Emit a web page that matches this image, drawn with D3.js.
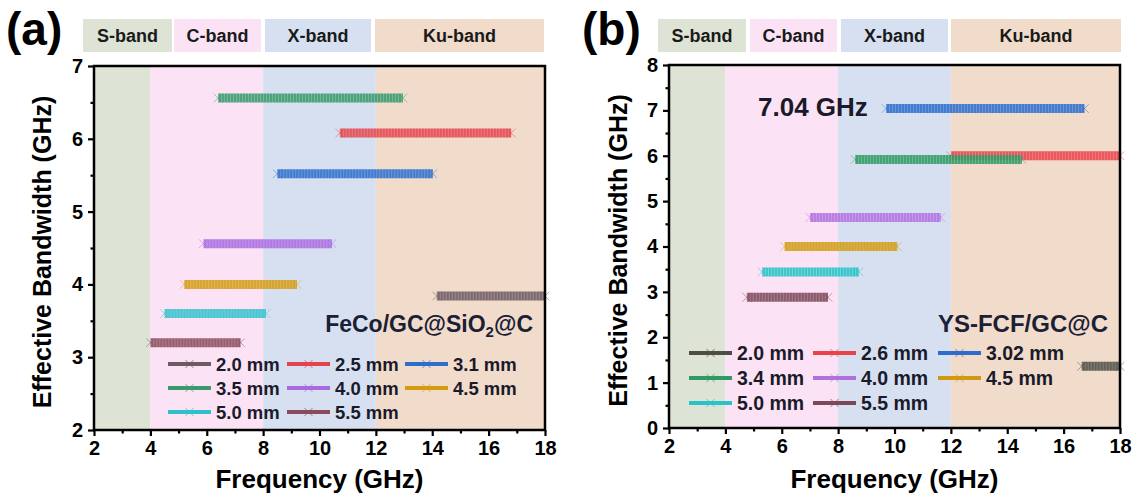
<!DOCTYPE html>
<html>
<head>
<meta charset="utf-8">
<script src="https://cdn.jsdelivr.net/npm/d3@7/dist/d3.min.js"></script>
<style>
  body { margin: 0; background: #fff; }
  svg { display: block; font-family: "Liberation Sans", Arial, sans-serif; font-weight: bold; }
</style>
</head>
<body>
<svg id="chart" width="1138" height="499"></svg>
<script>
// frequency bands (shared by both panels)
const bandNames = ['S-band', 'C-band', 'X-band', 'Ku-band']
const bandEdges = [2, 4, 8, 12, 18]
const bandColors = ['#dde3d5', '#fbe2f4', '#d7e0f1', '#f1dbca']

const xTicks = [2, 4, 6, 8, 10, 12, 14, 16, 18]
const xMinorTicks = [3, 5, 7, 9, 11, 13, 15, 17]

// panel (a) FeCo/GC@SiO2@C
const thicknessA = ['2.0 mm', '2.5 mm', '3.1 mm', '3.5 mm', '4.0 mm', '4.5 mm', '5.0 mm', '5.5 mm']
const startA = [14.16, 10.72, 8.50, 6.40, 5.88, 5.20, 4.50, 4.00]
const endA = [18.00, 16.80, 14.02, 12.96, 10.44, 9.20, 8.10, 7.20]
const ebA = [3.84, 6.08, 5.52, 6.56, 4.56, 4.00, 3.60, 3.20]
const colorsA = ['#6e5a62', '#e2444d', '#2d6dcc', '#3a9a6c', '#a86ae0', '#d49a12', '#30c0cc', '#8a4a5c']
const yTicksA = [2, 3, 4, 5, 6, 7]
const yMinorA = [2.5, 3.5, 4.5, 5.5, 6.5]

// panel (b) YS-FCF/GC@C
const thicknessB = ['2.0 mm', '2.6 mm', '3.02 mm', '3.4 mm', '4.0 mm', '4.5 mm', '5.0 mm', '5.5 mm']
const startB = [16.64, 12.00, 9.70, 8.60, 7.00, 6.10, 5.30, 4.76]
const endB = [18.00, 18.00, 16.74, 14.52, 11.64, 10.10, 8.74, 7.64]
const ebB = [1.36, 6.00, 7.04, 5.92, 4.64, 4.00, 3.44, 2.88]
const colorsB = ['#4d4d45', '#e8434a', '#2c6ccc', '#2f9a62', '#b070e0', '#d09a10', '#28c2c8', '#7c4858']
const yTicksB = [0, 1, 2, 3, 4, 5, 6, 7, 8]
const yMinorB = [0.5, 1.5, 2.5, 3.5, 4.5, 5.5, 6.5, 7.5]

const svg = d3.select('#chart')

function drawPanel(cfg) {
  const g = svg.append('g')
  const x = d3.scaleLinear().domain([2, 18]).range([cfg.left, cfg.right])
  const y = d3.scaleLinear().domain(cfg.yDomain).range([cfg.bottom, cfg.top])

  // panel letter
  g.append('text')
    .attr('x', cfg.letterX).attr('y', 45)
    .attr('font-size', 46)
    .text(cfg.letter)

  // header band boxes
  cfg.header.forEach((h, i) => {
    g.append('rect')
      .attr('x', h[0]).attr('y', 19)
      .attr('width', h[1] - h[0]).attr('height', 33)
      .attr('fill', bandColors[i])
    g.append('text')
      .attr('x', (h[0] + h[1]) / 2).attr('y', 42)
      .attr('text-anchor', 'middle')
      .attr('font-size', 18)
      .attr('fill', '#1a1a1a')
      .text(bandNames[i])
  })

  // background bands in plot
  bandNames.forEach((b, i) => {
    g.append('rect')
      .attr('x', x(bandEdges[i])).attr('y', cfg.top)
      .attr('width', x(bandEdges[i + 1]) - x(bandEdges[i]))
      .attr('height', cfg.bottom - cfg.top)
      .attr('fill', bandColors[i])
  })

  // bandwidth lines
  const line = d3.line().x(d => x(d[0])).y(d => y(d[1]))
  const cross = d3.symbol().type(d3.symbolX).size(50)
  cfg.start.forEach((s, i) => {
    const pts = [[s, cfg.eb[i]], [cfg.end[i], cfg.eb[i]]]
    const lg = g.append('g')
    lg.append('path')
      .attr('d', line(pts))
      .attr('stroke', cfg.colors[i])
      .attr('stroke-width', 9)
      .attr('opacity', 0.88)
      .attr('fill', 'none')
    // marker texture
    lg.append('path')
      .attr('d', line(pts))
      .attr('stroke', '#ffffff')
      .attr('stroke-width', 9)
      .attr('stroke-dasharray', '1,2')
      .attr('opacity', 0.22)
      .attr('fill', 'none')
    pts.forEach(p => {
      lg.append('path')
        .attr('d', cross)
        .attr('transform', `translate(${x(p[0])},${y(p[1])})`)
        .attr('fill', cfg.colors[i])
        .attr('stroke', cfg.colors[i])
        .attr('stroke-width', 0.6)
        .attr('opacity', 0.8)
    })
  })

  // frame
  g.append('rect')
    .attr('x', cfg.left).attr('y', cfg.top)
    .attr('width', cfg.right - cfg.left).attr('height', cfg.bottom - cfg.top)
    .attr('fill', 'none').attr('stroke', '#000').attr('stroke-width', 2.5)

  // axes
  g.append('g')
    .attr('transform', `translate(0,${cfg.bottom})`)
    .call(d3.axisBottom(x).tickValues(xTicks).tickSize(6).tickPadding(5))
  g.append('g')
    .attr('transform', `translate(0,${cfg.bottom})`)
    .call(d3.axisBottom(x).tickValues(xMinorTicks).tickSize(3.5).tickFormat(''))
  g.append('g')
    .attr('transform', `translate(${cfg.left},0)`)
    .call(d3.axisLeft(y).tickValues(cfg.yTicks).tickSize(6).tickPadding(5).tickFormat(d3.format('d')))
  g.append('g')
    .attr('transform', `translate(${cfg.left},0)`)
    .call(d3.axisLeft(y).tickValues(cfg.yMinor).tickSize(3.5).tickFormat(''))
  g.selectAll('.domain').remove()
  g.selectAll('.tick line').attr('stroke', '#000').attr('stroke-width', 2.2)
  g.selectAll('.tick text')
    .attr('font-size', 20)
    .attr('font-family', '"Liberation Sans", Arial, sans-serif')
    .attr('font-weight', 'bold')
    .attr('fill', '#000')

  // axis titles
  g.append('text')
    .attr('x', (cfg.left + cfg.right) / 2).attr('y', 488)
    .attr('text-anchor', 'middle')
    .attr('font-size', 26)
    .text('Frequency (GHz)')
  g.append('text')
    .attr('transform', `translate(${cfg.yTitleX},${(cfg.top + cfg.bottom) / 2 + 4}) rotate(-90)`)
    .attr('text-anchor', 'middle')
    .attr('font-size', 25)
    .text('Effective Bandwidth (GHz)')

  // legend
  cfg.names.forEach((n, i) => {
    const row = Math.floor(i / 3), col = i % 3
    const lx = cfg.legX[col], ly = cfg.legY[row]
    g.append('line')
      .attr('x1', lx).attr('x2', lx + 43)
      .attr('y1', ly).attr('y2', ly)
      .attr('stroke', cfg.colors[i]).attr('stroke-width', 4)
    g.append('path')
      .attr('d', d3.symbol().type(d3.symbolX).size(45)())
      .attr('transform', `translate(${lx + 21.5},${ly})`)
      .attr('stroke', cfg.colors[i]).attr('stroke-width', 1)
      .attr('fill', 'none').attr('opacity', 0.7)
    g.append('text')
      .attr('x', lx + 48).attr('y', ly + 7)
      .attr('font-size', cfg.legFont)
      .attr('fill', '#1a1a2a')
      .text(n)
  })

  return { g, x, y }
}

const pa = drawPanel({
  letter: '(a)', letterX: 6,
  left: 94, right: 545, top: 66, bottom: 430,
  yDomain: [2, 7], yTicks: yTicksA, yMinor: yMinorA, yTitleX: 51,
  header: [[83, 172], [174, 261], [265, 371], [375, 544]],
  names: thicknessA, start: startA, end: endA, eb: ebA, colors: colorsA,
  legX: [168, 287, 405], legY: [364, 388, 412], legFont: 18.5
})
pa.g.append('text')
  .attr('x', 533).attr('y', 332)
  .attr('text-anchor', 'end')
  .attr('font-size', 23)
  .attr('fill', '#1a2035')
  .call(t => {
    t.append('tspan').text('FeCo/GC@SiO')
    t.append('tspan').attr('font-size', 15).attr('dy', 5).text('2')
    t.append('tspan').attr('dy', -5).text('@C')
  })

const pb = drawPanel({
  letter: '(b)', letterX: 582,
  left: 669, right: 1120, top: 65, bottom: 428,
  yDomain: [0, 8], yTicks: yTicksB, yMinor: yMinorB, yTitleX: 627,
  header: [[658, 746], [750, 837], [841, 948], [951, 1121]],
  names: thicknessB, start: startB, end: endB, eb: ebB, colors: colorsB,
  legX: [689, 813, 938], legY: [353, 378, 403], legFont: 19.5
})
pb.g.append('text')
  .attr('x', 1108).attr('y', 332)
  .attr('text-anchor', 'end')
  .attr('font-size', 24)
  .attr('fill', '#1a2035')
  .text('YS-FCF/GC@C')
pb.g.append('text')
  .attr('x', 758).attr('y', 116)
  .attr('font-size', 26)
  .attr('fill', '#1a1a2a')
  .text('7.04 GHz')
</script>
</body>
</html>
